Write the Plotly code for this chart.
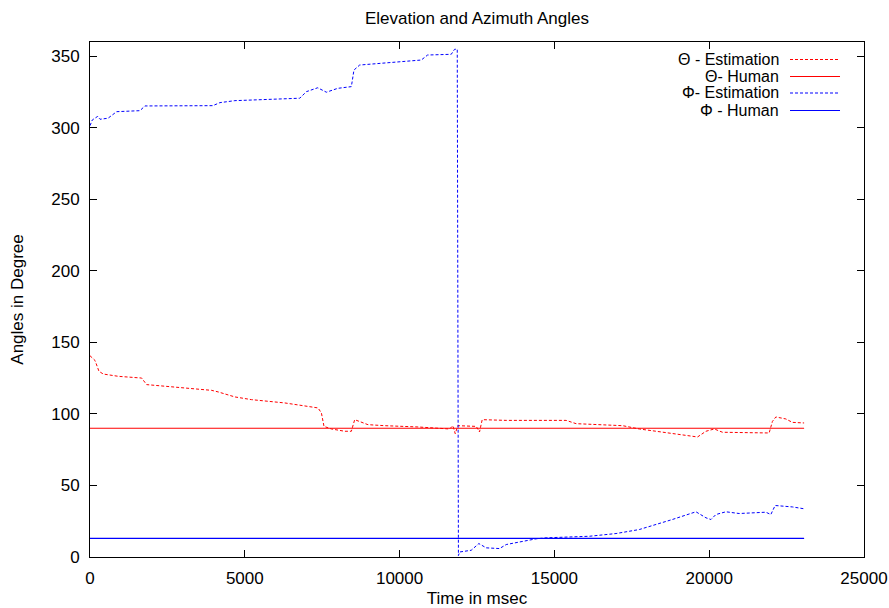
import plotly.graph_objects as go

# ---- data ----
theta_est_x = [0, 161, 290, 429, 913, 1668, 1829, 2526, 3926, 4139, 4678, 5216, 6290, 7365,
               7474, 7558, 7797, 8226, 8442, 8549, 8978, 9516, 10591, 11614, 11720, 11797,
               11881, 12475, 12581, 12668, 13443, 15378, 15701, 17205, 17742, 18281, 19623,
               19895, 20163, 20430, 21936, 22043, 22153, 22475, 22688, 23066]
theta_est_y = [140.7, 137.4, 129.8, 127.9, 126.3, 125.1, 120.5, 119.3, 116.5, 115.4, 111.9,
               110.0, 107.7, 104.2, 100.7, 91.3, 89.5, 87.9, 87.9, 96.0, 92.5, 91.8, 90.9,
               89.5, 91.8, 86.2, 91.8, 91.3, 87.4, 96.0, 95.5, 95.5, 93.2, 91.8, 89.5, 87.9,
               83.9, 87.9, 89.5, 87.2, 86.7, 94.8, 97.9, 96.5, 94.1, 93.7]

phi_est_x = [0, 74, 248, 323, 581, 861, 1613, 1774, 3968, 4194, 4678, 6774, 6990, 7355,
             7636, 8000, 8442, 8526, 8710, 9516, 10700, 10904, 11668, 11775, 11862, 11900,
             11940, 12313, 12559, 12797, 13227, 13443, 14411, 14733, 16130, 16991, 17742,
             18808, 19572, 19895, 20056, 20217, 20540, 20969, 21830, 21991, 22130, 22688, 23066]
phi_est_y = [301.5, 305.5, 308, 306, 306.7, 311.3, 312, 315.3, 315.5, 317.6, 319, 320.7,
             325.3, 328, 324.9, 327.6, 328.8, 340.4, 343.9, 345.5, 347.4, 350.9, 351.4,
             354.9, 355, 1, 3.5, 4.7, 9.4, 6.4, 5.9, 8.7, 12.7, 13.4, 14.5, 16.4, 19.2,
             26.2, 31.6, 27.4, 26.2, 29.7, 31.6, 30.4, 31.3, 29.7, 36, 35, 33.7]

human_x = [0, 23066]
theta_human_y = [90, 90]
phi_human_y = [13, 13]

legend_labels = ["\u0398 - Estimation", "\u0398- Human", "\u03a6- Estimation", "\u03a6 - Human"]

x_ticks = [0, 5000, 10000, 15000, 20000, 25000]
x_tick_labels = ["0", "5000", "10000", "15000", "20000", "25000"]
y_ticks = [0, 50, 100, 150, 200, 250, 300, 350]
y_tick_labels = ["0", "50", "100", "150", "200", "250", "300", "350"]

RED = "#ff0000"
BLUE = "#0000ff"
DASH = "3px,2px"
FONT = "Liberation Sans, Arial, sans-serif"
FS = 17
LEG_FS = 16

fig = go.Figure()
fig.add_trace(go.Scatter(x=theta_est_x, y=theta_est_y, mode="lines",
                         line=dict(color=RED, width=1, dash=DASH), name=legend_labels[0]))
fig.add_trace(go.Scatter(x=human_x, y=theta_human_y, mode="lines",
                         line=dict(color=RED, width=1.2), name=legend_labels[1]))
fig.add_trace(go.Scatter(x=phi_est_x, y=phi_est_y, mode="lines",
                         line=dict(color=BLUE, width=1, dash=DASH), name=legend_labels[2]))
fig.add_trace(go.Scatter(x=human_x, y=phi_human_y, mode="lines",
                         line=dict(color=BLUE, width=1.2), name=legend_labels[3]))

# gnuplot-style legend: right-aligned text with sample line at right
styles = [(RED, DASH), (RED, "solid"), (BLUE, DASH), (BLUE, "solid")]
rows_y = [0.966, 0.933, 0.901, 0.867]
for lab, (col, dash), ry in zip(legend_labels, styles, rows_y):
    fig.add_annotation(x=0.8915, y=ry, xref="paper", yref="paper", text=lab,
                       showarrow=False, xanchor="right", yanchor="middle", borderpad=0,
                       font=dict(family=FONT, size=LEG_FS, color="black"))
    fig.add_shape(type="line", xref="paper", yref="paper", x0=0.9044, x1=0.969,
                  y0=ry, y1=ry,
                  line=dict(color=col, width=1.2, dash=dash))

axis_common = dict(showgrid=False, zeroline=False, showline=True, linecolor="black",
                   linewidth=1, mirror="ticks", ticks="inside", ticklen=7,
                   tickcolor="black", tickwidth=1,
                   tickfont=dict(family=FONT, size=FS, color="black"))

fig.update_layout(
    width=889, height=608,
    margin=dict(l=90, r=25, t=42, b=51, autoexpand=False),
    paper_bgcolor="white", plot_bgcolor="white",
    showlegend=False,
    title=dict(text="Elevation and Azimuth Angles", x=0.5365, xanchor="center",
               y=1 - 18 / 608, yanchor="middle",
               font=dict(family=FONT, size=FS, color="black")),
    xaxis=dict(range=[0, 25000], tickvals=x_ticks, ticktext=x_tick_labels,
               ticklabelstandoff=6,
               title=dict(text="Time in msec", standoff=7,
                          font=dict(family=FONT, size=FS, color="black")),
               **axis_common),
    yaxis=dict(range=[0, 360], tickvals=y_ticks, ticktext=y_tick_labels,
               ticklabelstandoff=6,
               title=dict(text="Angles in Degree", standoff=23,
                          font=dict(family=FONT, size=FS, color="black")),
               **axis_common),
)

fig.write_html("out.html", config={"displayModeBar": False},
               post_script="document.body.style.margin='0px';document.body.style.overflow='hidden';")
